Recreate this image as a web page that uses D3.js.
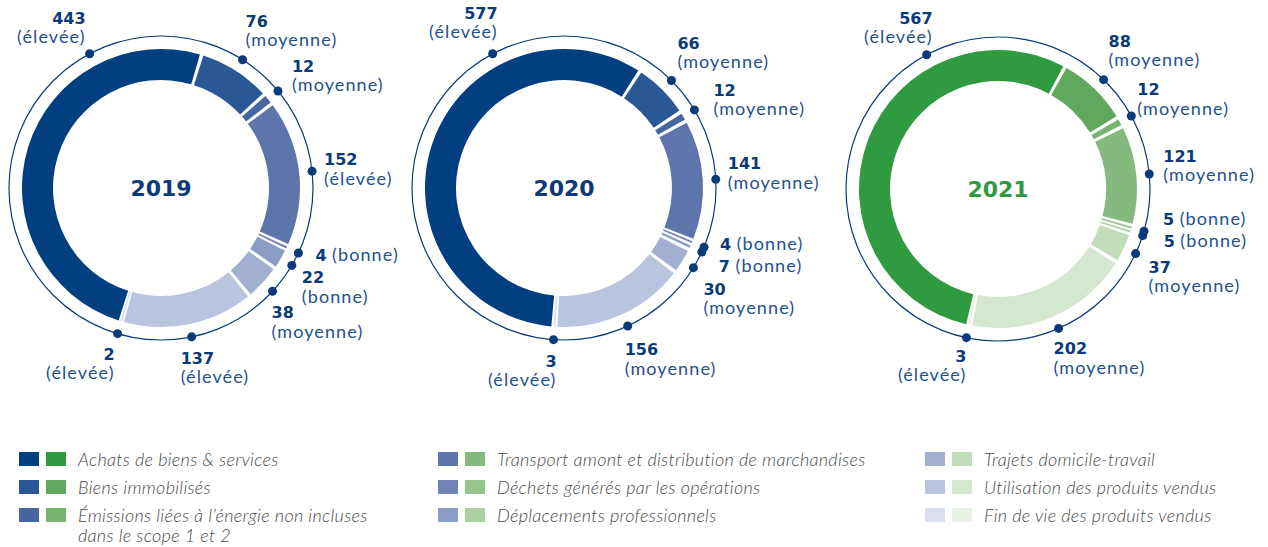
<!DOCTYPE html>
<html><head><meta charset="utf-8">
<script src="https://cdn.jsdelivr.net/npm/d3@7"></script>
<style>
html,body{margin:0;padding:0;background:#fff;}
svg{display:block;}
</style></head>
<body><svg id="chart" width="1268" height="547"></svg>
<script>
// ---------- DATA ----------
const categories = [
  "Achats de biens & services",
  "Biens immobilisés",
  "Émissions liées à l’énergie non incluses|dans le scope 1 et 2",
  "Transport amont et distribution de marchandises",
  "Déchets générés par les opérations",
  "Déplacements professionnels",
  "Trajets domicile-travail",
  "Utilisation des produits vendus",
  "Fin de vie des produits vendus"
];
const years = ["2019", "2020", "2021"];
const values2019 = [443, 76, 12, 152, 4, 22, 38, 137, 2];
const values2020 = [577, 66, 12, 141, 4, 7, 30, 156, 3];
const values2021 = [567, 88, 12, 121, 5, 5, 37, 202, 3];
const ratings2019 = ["élevée","moyenne","moyenne","élevée","bonne","bonne","moyenne","élevée","élevée"];
const ratings2020 = ["élevée","moyenne","moyenne","moyenne","bonne","bonne","moyenne","moyenne","élevée"];
const ratings2021 = ["élevée","moyenne","moyenne","moyenne","bonne","bonne","moyenne","moyenne","élevée"];
const bluePalette  = ["#023f80","#2a5894","#4566a0","#5d75aa","#7085b6","#8a9bc6","#a1afd0","#bbc4df","#d9dfed"];
const greenPalette = ["#2f9a40","#5fa85e","#76b46f","#84ba7d","#95c48d","#abd1a2","#c2ddba","#d5e7d0","#e7f1e4"];

// ---------- LAYOUT ----------
const svg = d3.select("#chart");
const navy = "#0b3a7a";
const subColor = "#24508f";
const numFont = "'DejaVu Sans', sans-serif";
const txtFont = "Lato, 'Open Sans', sans-serif";

const charts = [
  {values: values2019, ratings: ratings2019, palette: bluePalette, yearColor: navy,
   cx: 161, cy: 188, start: -163,
   labels: [[-4,-30,"end",0],[3,-33,"start",0],[14,-19,"start",0],[12,-6,"start",0],[17,8,"start",1],
            [10,18,"start",0],[-1,27,"start",0],[-11,27,"start",0],[-3,26,"end",0]]},
  {values: values2020, ratings: ratings2020, palette: bluePalette, yearColor: navy,
   cx: 564, cy: 188, start: -175.5,
   labels: [[5,-35,"end",0],[6,-32,"start",0],[19,-14,"start",0],[12,-10,"start",0],[16,3,"start",1],
            [17,20,"start",1],[10,27,"start",0],[-3,29,"start",0],[3,27,"end",0]]},
  {values: values2021, ratings: ratings2021, palette: greenPalette, yearColor: "#2f9a40",
   cx: 998, cy: 189, start: -167.5,
   labels: [[6,-31,"end",0],[5,-33,"start",0],[6,-21,"start",0],[14,-12,"start",0],[19,-6,"start",1],
            [21,11,"start",1],[13,19,"start",0],[-5,26,"start",0],[0,24,"end",0]]}
];
const rIn = 108, rOut = 139, rRing = 152;
const firstLabelAngle = -28 * Math.PI / 180; // label of the large first slice sits upper-left

charts.forEach((c, ci) => {
  const g = svg.append("g").attr("transform", `translate(${c.cx},${c.cy})`);
  const s0 = c.start * Math.PI / 180;
  const pie = d3.pie().sort(null).value(d => d).startAngle(s0).endAngle(s0 + 2 * Math.PI);
  const arcs = pie(c.values);
  const rMid = (rIn + rOut) / 2;
  const gap = 1.6 / rMid, minW = 1.8 / rMid;
  const arc = d3.arc().innerRadius(rIn).outerRadius(rOut);

  g.selectAll("path.seg").data(arcs).join("path")
    .attr("class", "seg")
    .attr("fill", (d, i) => c.palette[i])
    .attr("d", d => {
      let a0 = d.startAngle + gap, a1 = d.endAngle - gap;
      if (a1 - a0 < minW) { const m = (d.startAngle + d.endAngle) / 2; a0 = m - minW / 2; a1 = m + minW / 2; }
      return arc({startAngle: a0, endAngle: a1});
    });

  g.append("circle").attr("r", rRing).attr("fill", "none").attr("stroke", navy).attr("stroke-width", 1.2);

  arcs.forEach((d, i) => {
    const a = i === 0 ? firstLabelAngle : (d.startAngle + d.endAngle) / 2;
    const x = rRing * Math.sin(a), y = -rRing * Math.cos(a);
    g.append("circle").attr("cx", x).attr("cy", y).attr("r", 4.5).attr("fill", navy);
    const [dx, dy, anchor, inline] = c.labels[i];
    const t = g.append("text").attr("x", x + dx).attr("y", y + dy).attr("text-anchor", anchor);
    t.append("tspan").attr("font-family", numFont).attr("font-weight", 700).attr("font-size", 16)
        .attr("fill", navy).text(inline ? d.data + " " : d.data);
    if (inline) {
      t.append("tspan").attr("font-family", txtFont).attr("font-weight", 400).attr("font-size", 18)
        .attr("letter-spacing", 1.1).attr("fill", subColor).text("(" + c.ratings[i] + ")");
    } else {
      g.append("text").attr("x", x + dx).attr("y", y + dy + 19.5).attr("text-anchor", anchor)
        .attr("font-family", txtFont).attr("font-weight", 400).attr("font-size", 18)
        .attr("letter-spacing", 1.1).attr("fill", subColor).text("(" + c.ratings[i] + ")");
    }
  });

  g.append("text").attr("x", 0).attr("y", 8).attr("text-anchor", "middle")
    .attr("font-family", numFont).attr("font-weight", 700).attr("font-size", 22)
    .attr("fill", c.yearColor).text(years[ci]);
});

// ---------- LEGEND ----------
const legCols = [19, 438, 925];
const legRows = [452, 480, 508];
const leg = svg.append("g");
categories.forEach((name, i) => {
  const col = Math.floor(i / 3), row = i % 3;
  const x = legCols[col], y = legRows[row];
  leg.append("rect").attr("x", x).attr("y", y).attr("width", 20).attr("height", 14).attr("fill", bluePalette[i]);
  leg.append("rect").attr("x", x + 27).attr("y", y).attr("width", 20).attr("height", 14).attr("fill", greenPalette[i]);
  const lines = name.split("|");
  const t = leg.append("text").attr("font-family", txtFont).attr("font-style", "italic")
    .attr("font-weight", 300).attr("font-size", 18).attr("letter-spacing", 0.3).attr("fill", "#4a4a4a");
  lines.forEach((ln, k) => {
    t.append("tspan").attr("x", x + 59).attr("y", y + 14 + k * 19.5).text(ln);
  });
});
</script></body></html>
